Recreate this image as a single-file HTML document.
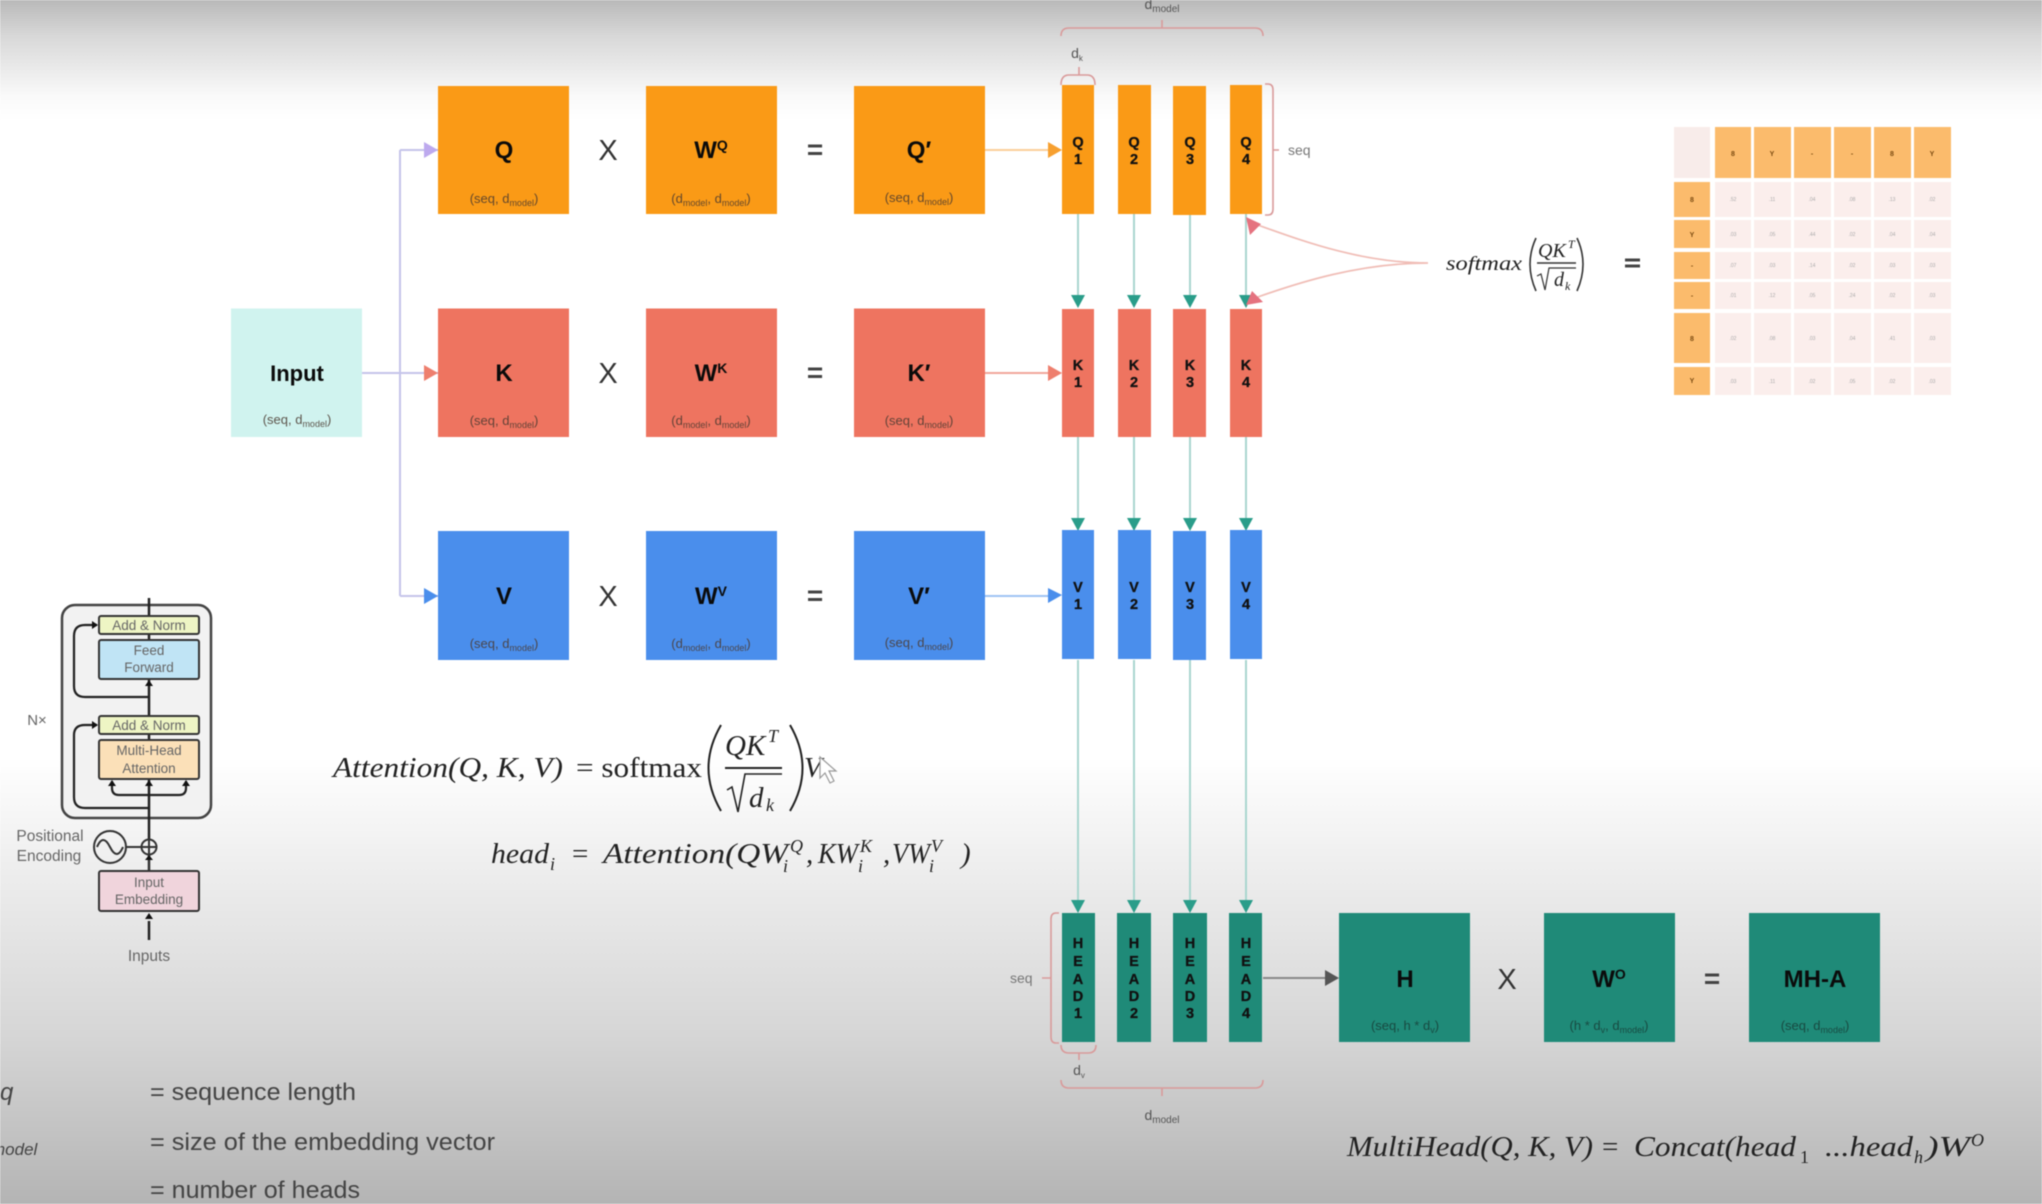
<!DOCTYPE html>
<html><head><meta charset="utf-8"><style>
html,body{margin:0;padding:0;background:#fff;width:2042px;height:1204px;overflow:hidden}
svg{display:block;filter:blur(.5px)}
text{font-family:"Liberation Sans",sans-serif}
.b{font-weight:700;fill:#0b0b0b;text-anchor:middle}
.s{font-size:13px;text-anchor:middle;fill:#4a3a30;opacity:.85}
.s tspan{font-size:9px}
.s tspan[font-size]{font-size:13px}
.x{font-size:29px;text-anchor:middle;fill:#333}
.e{font-size:28px;font-weight:700;text-anchor:middle;fill:#444}
.st{font-size:14.500px;font-weight:700;text-anchor:middle;fill:#111;stroke:#111;stroke-width:.3px}
.m{font-family:"Liberation Serif",serif;font-style:italic;fill:#222}
.n{font-family:"Liberation Serif",serif;fill:#222}
.l{font-size:14px;text-anchor:middle;fill:#555}
.g{font-size:14px;fill:#777}
.t{font-size:13.500px;text-anchor:middle;fill:#666}
.lg{font-size:24px;fill:#444}
.o{fill:#fbbb6c}.c{fill:#fbeeec}
.h{font-size:7px;font-weight:700;text-anchor:middle;fill:#7a4a10}
.d{font-size:5px;text-anchor:middle;fill:#aaa}
.br{fill:none;stroke:#d99a9a;stroke-width:1.600}
.tl{fill:none;stroke:#a9d6cf;stroke-width:2}
.th{fill:#2a9d8a}
</style></head><body>
<svg width="2042" height="1204" viewBox="0 0 2042 1204" font-size="29" xmlns="http://www.w3.org/2000/svg">
<defs><linearGradient id="bg" x1="0" y1="0" x2="0" y2="1">
<stop offset="0" stop-color="#b9b9b9"/><stop offset=".03" stop-color="#d8d8d8"/><stop offset=".08" stop-color="#fafafa"/><stop offset=".1" stop-color="#fff"/><stop offset=".63" stop-color="#fff"/><stop offset=".72" stop-color="#eeeeee"/><stop offset=".86" stop-color="#d6d6d6"/><stop offset="1" stop-color="#b4b4b4"/>
</linearGradient></defs>
<rect width="2042" height="1204" fill="url(#bg)"/>

<!-- input connectors -->
<path d="M362 373H438M400 150V596M400 150H438M400 596H438" fill="none" stroke="#c5c4ea" stroke-width="2"/>
<path d="M424 142L438 150L424 158Z" fill="#bda9ee"/>
<path d="M424 365L438 373L424 381Z" fill="#ee7f6e"/>
<path d="M424 588L438 596L424 604Z" fill="#4a8eec"/>
<path d="M985 150H1050" stroke="#fbcf9a" stroke-width="2"/><path d="M1048 142L1062 150L1048 158Z" fill="#f7a030"/>
<path d="M985 373H1050" stroke="#f2a79b" stroke-width="2"/><path d="M1048 365L1062 373L1048 381Z" fill="#ee7f6e"/>
<path d="M985 596H1050" stroke="#9fc3f3" stroke-width="2"/><path d="M1048 588L1062 595L1048 603Z" fill="#4a8eec"/>

<!-- teal connectors -->
<path class="tl" d="M1078 214V300M1134 214V300M1190 214V300M1246 214V300M1078 437V522M1134 437V522M1190 437V522M1246 437V522M1078 660V905M1134 660V905M1190 660V905M1246 660V905"/>
<path class="th" d="M1071 295H1085L1078 308ZM1127 295H1141L1134 308ZM1183 295H1197L1190 308ZM1239 295H1253L1246 308ZM1071 518H1085L1078 531ZM1127 518H1141L1134 531ZM1183 518H1197L1190 531ZM1239 518H1253L1246 531ZM1071 900H1085L1078 913ZM1127 900H1141L1134 913ZM1183 900H1197L1190 913ZM1239 900H1253L1246 913Z"/>

<!-- row boxes -->
<g fill="#fa9a16"><rect x="438" y="86" width="131" height="128"/><rect x="646" y="86" width="131" height="128"/><rect x="854" y="86" width="131" height="128"/><rect x="1062" y="85" width="32" height="129"/><rect x="1118" y="85" width="33" height="129"/><rect x="1173" y="86" width="33" height="129"/><rect x="1230" y="85" width="32" height="129"/></g>
<g fill="#ee7460"><rect x="438" y="308.500" width="131" height="128.500"/><rect x="646" y="308.500" width="131" height="128.500"/><rect x="854" y="308.500" width="131" height="128.500"/><rect x="1062" y="309" width="32" height="128"/><rect x="1118" y="309" width="33" height="128"/><rect x="1173" y="309" width="33" height="128"/><rect x="1230" y="309" width="32" height="128"/></g>
<g fill="#4a8eec"><rect x="438" y="531" width="131" height="129"/><rect x="646" y="531" width="131" height="129"/><rect x="854" y="531" width="131" height="129"/><rect x="1062" y="530" width="32" height="129"/><rect x="1118" y="530" width="33" height="129"/><rect x="1173" y="531" width="33" height="129"/><rect x="1230" y="530" width="32" height="129"/></g>
<rect x="231" y="308.500" width="131" height="128.500" fill="#d0f3ef"/>
<g fill="#1f8a78"><rect x="1062" y="913" width="33" height="129"/><rect x="1117" y="913" width="34" height="129"/><rect x="1173" y="913" width="34" height="129"/><rect x="1229" y="913" width="33" height="129"/><rect x="1339" y="913" width="131" height="129"/><rect x="1544" y="913" width="131" height="129"/><rect x="1749" y="913" width="131" height="129"/></g>

<!-- box labels -->
<text class="b" x="297" y="381" font-size="22">Input</text><text class="s" x="297" y="424">(seq, d<tspan dy="3">model</tspan><tspan dy="-3" font-size="13">)</tspan></text>
<text class="b" x="504" y="158" font-size="24">Q</text><text class="s" x="504" y="203">(seq, d<tspan dy="3">model</tspan><tspan dy="-3" font-size="13">)</tspan></text>
<text class="b" x="504" y="381" font-size="24">K</text><text class="s" x="504" y="425">(seq, d<tspan dy="3">model</tspan><tspan dy="-3" font-size="13">)</tspan></text>
<text class="b" x="504" y="604" font-size="24">V</text><text class="s" x="504" y="648">(seq, d<tspan dy="3">model</tspan><tspan dy="-3" font-size="13">)</tspan></text>
<text class="b" x="711" y="158" font-size="24">W<tspan font-size="14" dy="-8">Q</tspan></text><text class="s" x="711" y="203">(d<tspan dy="3">model</tspan><tspan dy="-3" font-size="13">, d</tspan><tspan dy="3">model</tspan><tspan dy="-3" font-size="13">)</tspan></text>
<text class="b" x="711" y="381" font-size="24">W<tspan font-size="14" dy="-8">K</tspan></text><text class="s" x="711" y="425">(d<tspan dy="3">model</tspan><tspan dy="-3" font-size="13">, d</tspan><tspan dy="3">model</tspan><tspan dy="-3" font-size="13">)</tspan></text>
<text class="b" x="711" y="604" font-size="24">W<tspan font-size="14" dy="-8">V</tspan></text><text class="s" x="711" y="648">(d<tspan dy="3">model</tspan><tspan dy="-3" font-size="13">, d</tspan><tspan dy="3">model</tspan><tspan dy="-3" font-size="13">)</tspan></text>
<text class="b" x="919" y="158" font-size="24">Q′</text><text class="s" x="919" y="202">(seq, d<tspan dy="3">model</tspan><tspan dy="-3" font-size="13">)</tspan></text>
<text class="b" x="919" y="381" font-size="24">K′</text><text class="s" x="919" y="425">(seq, d<tspan dy="3">model</tspan><tspan dy="-3" font-size="13">)</tspan></text>
<text class="b" x="919" y="604" font-size="24">V′</text><text class="s" x="919" y="647">(seq, d<tspan dy="3">model</tspan><tspan dy="-3" font-size="13">)</tspan></text>
<text class="x" x="608" y="160">X</text><text class="x" x="608" y="383">X</text><text class="x" x="608" y="606">X</text>
<text class="e" x="815" y="159">=</text><text class="e" x="815" y="382">=</text><text class="e" x="815" y="605">=</text>

<!-- strip labels -->
<text class="st" x="1078" y="147">Q</text><text class="st" x="1078" y="164">1</text><text class="st" x="1134" y="147">Q</text><text class="st" x="1134" y="164">2</text><text class="st" x="1190" y="147">Q</text><text class="st" x="1190" y="164">3</text><text class="st" x="1246" y="147">Q</text><text class="st" x="1246" y="164">4</text>
<text class="st" x="1078" y="370">K</text><text class="st" x="1078" y="387">1</text><text class="st" x="1134" y="370">K</text><text class="st" x="1134" y="387">2</text><text class="st" x="1190" y="370">K</text><text class="st" x="1190" y="387">3</text><text class="st" x="1246" y="370">K</text><text class="st" x="1246" y="387">4</text>
<text class="st" x="1078" y="592">V</text><text class="st" x="1078" y="609">1</text><text class="st" x="1134" y="592">V</text><text class="st" x="1134" y="609">2</text><text class="st" x="1190" y="592">V</text><text class="st" x="1190" y="609">3</text><text class="st" x="1246" y="592">V</text><text class="st" x="1246" y="609">4</text>
<text class="st" x="1078" y="948">H</text><text class="st" x="1078" y="966">E</text><text class="st" x="1078" y="984">A</text><text class="st" x="1078" y="1001">D</text><text class="st" x="1078" y="1018">1</text>
<text class="st" x="1134" y="948">H</text><text class="st" x="1134" y="966">E</text><text class="st" x="1134" y="984">A</text><text class="st" x="1134" y="1001">D</text><text class="st" x="1134" y="1018">2</text>
<text class="st" x="1190" y="948">H</text><text class="st" x="1190" y="966">E</text><text class="st" x="1190" y="984">A</text><text class="st" x="1190" y="1001">D</text><text class="st" x="1190" y="1018">3</text>
<text class="st" x="1246" y="948">H</text><text class="st" x="1246" y="966">E</text><text class="st" x="1246" y="984">A</text><text class="st" x="1246" y="1001">D</text><text class="st" x="1246" y="1018">4</text>

<!-- head output row -->
<path d="M1263 978H1328" stroke="#888" stroke-width="2"/><path d="M1325 970L1339 978L1325 986Z" fill="#555"/>
<text class="b" x="1405" y="987" font-size="24">H</text><text class="s" x="1405" y="1030" style="fill:#173f38">(seq, h * d<tspan dy="3">v</tspan><tspan dy="-3" font-size="13">)</tspan></text>
<text class="b" x="1609" y="987" font-size="24">W<tspan font-size="14" dy="-8">O</tspan></text><text class="s" x="1609" y="1030" style="fill:#173f38">(h * d<tspan dy="3">v</tspan><tspan dy="-3" font-size="13">, d</tspan><tspan dy="3">model</tspan><tspan dy="-3" font-size="13">)</tspan></text>
<text class="b" x="1815" y="987" font-size="24">MH-A</text><text class="s" x="1815" y="1030" style="fill:#173f38">(seq, d<tspan dy="3">model</tspan><tspan dy="-3" font-size="13">)</tspan></text>
<text class="x" x="1507" y="989">X</text><text class="e" x="1712" y="988">=</text>

<!-- brackets -->
<path class="br" d="M1061 36Q1061 28 1069 28H1255Q1263 28 1263 36M1162 20V28"/>
<path class="br" d="M1061 85Q1061 75 1069 75H1087Q1095 75 1095 85M1079 67V75"/>
<path class="br" d="M1265 84H1268Q1273 84 1273 90V209Q1273 215 1268 215H1265M1273 150H1279"/>
<path class="br" d="M1059 913H1056Q1051 913 1051 919V1037Q1051 1043 1056 1043H1059M1051 978H1042"/>
<path class="br" d="M1061 1045Q1061 1053 1069 1053H1088Q1096 1053 1096 1045M1079 1053V1060"/>
<path class="br" d="M1061 1080Q1061 1088 1069 1088H1255Q1263 1088 1263 1080M1162 1088V1096"/>
<text class="l" x="1162" y="9">d<tspan font-size="10" dy="3">model</tspan></text>
<text class="l" x="1077" y="58">d<tspan font-size="8" dy="3">k</tspan></text>
<text class="l" x="1079" y="1075">d<tspan font-size="8" dy="3">v</tspan></text>
<text class="l" x="1162" y="1120">d<tspan font-size="10" dy="3">model</tspan></text>
<text class="g" x="1288" y="155">seq</text><text class="g" x="1010" y="983">seq</text>

<!-- softmax arrows -->
<path d="M1428 263C1360 263 1300 240 1255 224M1428 263C1360 263 1300 282 1255 298" fill="none" stroke="#f0bdb6" stroke-width="1.700"/>
<path d="M1246 217L1261 224L1250 235ZM1246 305L1252 291L1263 302Z" fill="#e5727f"/>

<!-- softmax formula -->
<text class="m" x="1446" y="270" font-size="20" textLength="76" lengthAdjust="spacingAndGlyphs">softmax</text>
<path d="M1536 238Q1524 264 1536 291M1577 238Q1589 264 1577 291" fill="none" stroke="#333" stroke-width="1.600"/>
<path d="M1537 263H1576" stroke="#333" stroke-width="1.500"/>
<text class="m" x="1538" y="257" font-size="20">QK</text><text class="m" x="1568" y="248" font-size="12">T</text>
<path d="M1537 276L1541 274L1545 290L1549 268H1576" fill="none" stroke="#333" stroke-width="1.200"/>
<text class="m" x="1554" y="286" font-size="20">d</text><text class="m" x="1565" y="290" font-size="12">k</text>
<path d="M1625 260H1640M1625 266H1640" stroke="#444" stroke-width="3"/>

<!-- table -->
<rect x="1674" y="127" width="36" height="51" fill="#f8ecea"/>
<rect class="o" x="1715" y="127" width="36" height="51"/><rect class="o" x="1754" y="127" width="37" height="51"/><rect class="o" x="1794" y="127" width="37" height="51"/><rect class="o" x="1834" y="127" width="37" height="51"/><rect class="o" x="1874" y="127" width="37" height="51"/><rect class="o" x="1914" y="127" width="37" height="51"/>
<rect class="o" x="1674" y="182" width="36" height="35"/><rect class="o" x="1674" y="220" width="36" height="28"/><rect class="o" x="1674" y="252" width="36" height="27"/><rect class="o" x="1674" y="282" width="36" height="27"/><rect class="o" x="1674" y="313" width="36" height="50"/><rect class="o" x="1674" y="367" width="36" height="28"/>
<rect class="c" x="1715" y="182" width="36" height="35"/><rect class="c" x="1754" y="182" width="37" height="35"/><rect class="c" x="1794" y="182" width="37" height="35"/><rect class="c" x="1834" y="182" width="37" height="35"/><rect class="c" x="1874" y="182" width="37" height="35"/><rect class="c" x="1914" y="182" width="37" height="35"/>
<rect class="c" x="1715" y="220" width="36" height="28"/><rect class="c" x="1754" y="220" width="37" height="28"/><rect class="c" x="1794" y="220" width="37" height="28"/><rect class="c" x="1834" y="220" width="37" height="28"/><rect class="c" x="1874" y="220" width="37" height="28"/><rect class="c" x="1914" y="220" width="37" height="28"/>
<rect class="c" x="1715" y="252" width="36" height="27"/><rect class="c" x="1754" y="252" width="37" height="27"/><rect class="c" x="1794" y="252" width="37" height="27"/><rect class="c" x="1834" y="252" width="37" height="27"/><rect class="c" x="1874" y="252" width="37" height="27"/><rect class="c" x="1914" y="252" width="37" height="27"/>
<rect class="c" x="1715" y="282" width="36" height="27"/><rect class="c" x="1754" y="282" width="37" height="27"/><rect class="c" x="1794" y="282" width="37" height="27"/><rect class="c" x="1834" y="282" width="37" height="27"/><rect class="c" x="1874" y="282" width="37" height="27"/><rect class="c" x="1914" y="282" width="37" height="27"/>
<rect class="c" x="1715" y="313" width="36" height="50"/><rect class="c" x="1754" y="313" width="37" height="50"/><rect class="c" x="1794" y="313" width="37" height="50"/><rect class="c" x="1834" y="313" width="37" height="50"/><rect class="c" x="1874" y="313" width="37" height="50"/><rect class="c" x="1914" y="313" width="37" height="50"/>
<rect class="c" x="1715" y="367" width="36" height="28"/><rect class="c" x="1754" y="367" width="37" height="28"/><rect class="c" x="1794" y="367" width="37" height="28"/><rect class="c" x="1834" y="367" width="37" height="28"/><rect class="c" x="1874" y="367" width="37" height="28"/><rect class="c" x="1914" y="367" width="37" height="28"/>
<text class="h" x="1733" y="156">8</text><text class="h" x="1772" y="156">Y</text><text class="h" x="1812" y="156">-</text><text class="h" x="1852" y="156">-</text><text class="h" x="1892" y="156">8</text><text class="h" x="1932" y="156">Y</text>
<text class="h" x="1692" y="202">8</text><text class="h" x="1692" y="237">Y</text><text class="h" x="1692" y="268">-</text><text class="h" x="1692" y="298">-</text><text class="h" x="1692" y="341">8</text><text class="h" x="1692" y="383">Y</text>
<text class="d" x="1733" y="201">.52</text><text class="d" x="1772" y="201">.11</text><text class="d" x="1812" y="201">.04</text><text class="d" x="1852" y="201">.08</text><text class="d" x="1892" y="201">.13</text><text class="d" x="1932" y="201">.02</text>
<text class="d" x="1733" y="236">.03</text><text class="d" x="1772" y="236">.05</text><text class="d" x="1812" y="236">.44</text><text class="d" x="1852" y="236">.02</text><text class="d" x="1892" y="236">.04</text><text class="d" x="1932" y="236">.04</text>
<text class="d" x="1733" y="267">.07</text><text class="d" x="1772" y="267">.03</text><text class="d" x="1812" y="267">.14</text><text class="d" x="1852" y="267">.02</text><text class="d" x="1892" y="267">.03</text><text class="d" x="1932" y="267">.03</text>
<text class="d" x="1733" y="297">.01</text><text class="d" x="1772" y="297">.12</text><text class="d" x="1812" y="297">.05</text><text class="d" x="1852" y="297">.24</text><text class="d" x="1892" y="297">.02</text><text class="d" x="1932" y="297">.03</text>
<text class="d" x="1733" y="340">.02</text><text class="d" x="1772" y="340">.08</text><text class="d" x="1812" y="340">.03</text><text class="d" x="1852" y="340">.04</text><text class="d" x="1892" y="340">.41</text><text class="d" x="1932" y="340">.03</text>
<text class="d" x="1733" y="383">.03</text><text class="d" x="1772" y="383">.11</text><text class="d" x="1812" y="383">.02</text><text class="d" x="1852" y="383">.05</text><text class="d" x="1892" y="383">.02</text><text class="d" x="1932" y="383">.03</text>

<!-- attention formula -->
<text class="m" x="333" y="777" textLength="230" lengthAdjust="spacingAndGlyphs">Attention(Q, K, V)</text>
<text class="n" x="576" y="777" textLength="126" lengthAdjust="spacingAndGlyphs">= softmax</text>
<path d="M721 725Q696 768 721 811M790 725Q815 768 790 811" fill="none" stroke="#222" stroke-width="2"/>
<path d="M725 768H782" stroke="#222" stroke-width="2"/>
<text class="m" x="725" y="755">QK</text><text class="m" x="768" y="742" font-size="18">T</text>
<path d="M727 790L732 787L738 812L745 774H782" fill="none" stroke="#222" stroke-width="1.600"/>
<text class="m" x="749" y="807">d</text><text class="m" x="766" y="811" font-size="18">k</text>
<text class="m" x="804" y="777">V</text>
<path d="M820 757V778L825 773L830 783L834 781L829 771L836 771Z" fill="#fff" stroke="#999" stroke-width="1.200"/>

<text class="m" x="491" y="863" textLength="58" lengthAdjust="spacingAndGlyphs">head</text><text class="m" x="550" y="870" font-size="18">i</text>
<text class="n" x="572" y="863">=</text>
<text class="m" x="603" y="863" textLength="185" lengthAdjust="spacingAndGlyphs">Attention(QW</text>
<text class="m" x="790" y="852" font-size="18">Q</text><text class="m" x="783" y="872" font-size="18">i</text>
<text class="m" x="806" y="863">,</text><text class="m" x="818" y="863" textLength="40" lengthAdjust="spacingAndGlyphs">KW</text>
<text class="m" x="860" y="852" font-size="18">K</text><text class="m" x="858" y="872" font-size="18">i</text>
<text class="m" x="883" y="863">,</text><text class="m" x="892" y="863" textLength="38" lengthAdjust="spacingAndGlyphs">VW</text>
<text class="m" x="931" y="852" font-size="18">V</text><text class="m" x="929" y="872" font-size="18">i</text>
<text class="m" x="961" y="863">)</text>

<!-- multihead formula -->
<text class="m" x="1347" y="1156" textLength="246" lengthAdjust="spacingAndGlyphs">MultiHead(Q, K, V)</text>
<text class="n" x="1602" y="1156">=</text>
<text class="m" x="1634" y="1156" textLength="162" lengthAdjust="spacingAndGlyphs">Concat(head</text>
<text class="n" x="1800" y="1163" font-size="18">1</text>
<text class="m" x="1825" y="1156" textLength="88" lengthAdjust="spacingAndGlyphs">...head</text>
<text class="m" x="1914" y="1163" font-size="18">h</text>
<text class="m" x="1926" y="1156" textLength="44" lengthAdjust="spacingAndGlyphs">)W</text>
<text class="m" x="1971" y="1146" font-size="18">O</text>

<!-- legend -->
<text class="lg" x="0" y="1100" style="font-style:italic">q</text>
<text class="lg" x="-9" y="1155" style="font-style:italic;font-size:17px">model</text>
<text class="lg" x="150" y="1100" textLength="206" lengthAdjust="spacingAndGlyphs">= sequence length</text>
<text class="lg" x="150" y="1150" textLength="345" lengthAdjust="spacingAndGlyphs">= size of the embedding vector</text>
<text class="lg" x="150" y="1198" textLength="210" lengthAdjust="spacingAndGlyphs">= number of heads</text>

<!-- transformer encoder -->
<rect x="62" y="605" width="149" height="213" rx="13" fill="#f2f2f2" stroke="#444" stroke-width="2.500"/>
<path d="M149 598V616M149 634V640M149 679V716M149 734V740M149 779V871M149 940V921" fill="none" stroke="#222" stroke-width="2.500"/>
<path d="M149 697H85Q74 697 74 686V636Q74 625 85 625H97M149 808H85Q74 808 74 797V735Q74 725 85 725H97M112 781V788Q112 795 119 795H179Q186 795 186 788V781" fill="none" stroke="#222" stroke-width="2.200"/>
<rect x="99" y="616" width="100" height="18" rx="2" fill="#eef5c4" stroke="#333" stroke-width="2"/>
<rect x="99" y="640" width="100" height="39" rx="2" fill="#c0e4f5" stroke="#333" stroke-width="2"/>
<rect x="99" y="716" width="100" height="18" rx="2" fill="#eef5c4" stroke="#333" stroke-width="2"/>
<rect x="99" y="740" width="100" height="39" rx="2" fill="#fbe0b8" stroke="#333" stroke-width="2"/>
<rect x="99" y="871" width="100" height="40" rx="2" fill="#f0d4dc" stroke="#333" stroke-width="2"/>
<circle cx="110" cy="847" r="16" fill="none" stroke="#333" stroke-width="2"/>
<path d="M97 847Q103 833 110 847T123 847M126 847H142" fill="none" stroke="#333" stroke-width="2"/>
<circle cx="149" cy="847" r="7.500" fill="#f2f2f2" stroke="#333" stroke-width="2"/>
<path d="M149 840V854M142 847H156M149 854V871" stroke="#333" stroke-width="2" fill="none"/>
<path d="M145 686L149 680L153 686ZM145 786L149 780L153 786ZM145 860L149 855L153 860ZM145 919L149 913L153 919ZM92 621L98 625L92 629ZM92 721L98 725L92 729ZM108 786L112 780L116 786ZM182 786L186 780L190 786Z" fill="#111"/>
<text class="t" x="149" y="630">Add &amp; Norm</text><text class="t" x="149" y="730">Add &amp; Norm</text>
<text class="t" x="149" y="655">Feed</text><text class="t" x="149" y="672">Forward</text>
<text class="t" x="149" y="755">Multi-Head</text><text class="t" x="149" y="773">Attention</text>
<text class="t" x="149" y="887">Input</text><text class="t" x="149" y="904">Embedding</text>
<text class="t" x="37" y="725" style="font-size:15px">N×</text>
<text class="t" x="50" y="841" style="font-size:15.500px">Positional</text><text class="t" x="49" y="861" style="font-size:15.500px">Encoding</text>
<text class="t" x="149" y="961" style="font-size:15.500px">Inputs</text>
</svg>
</body></html>
